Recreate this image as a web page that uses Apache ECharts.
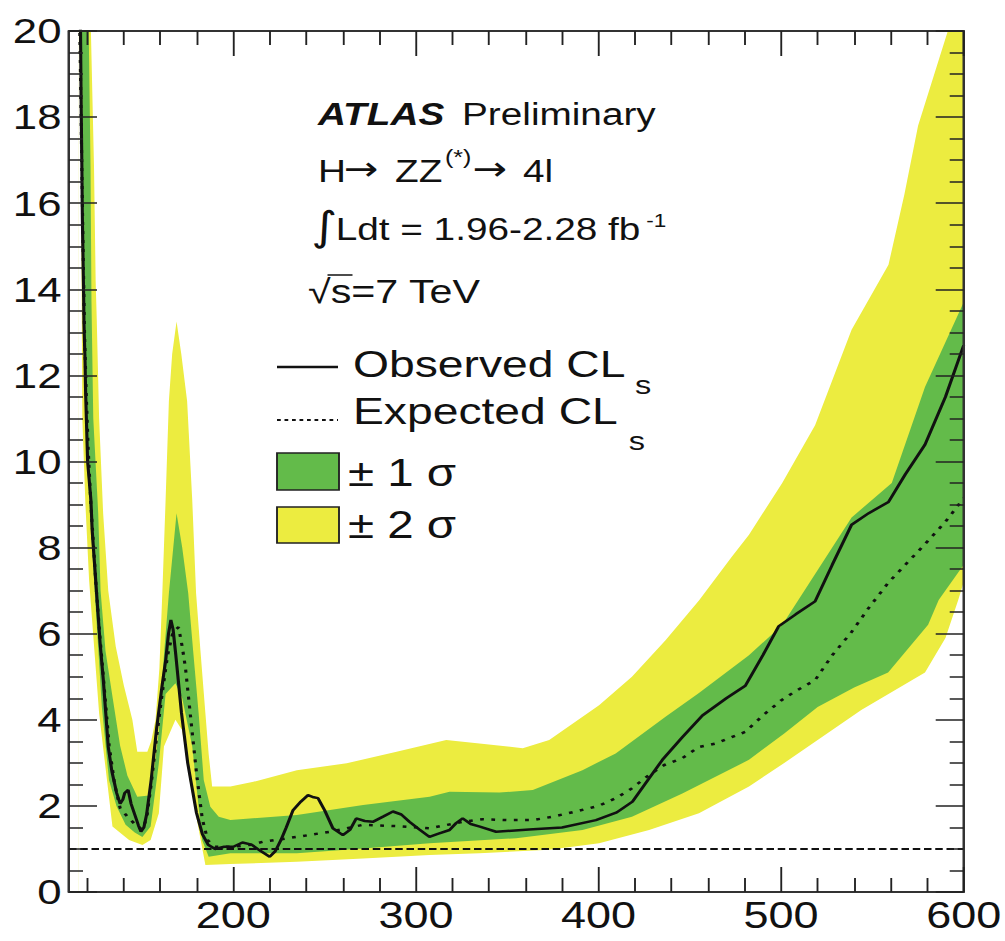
<!DOCTYPE html>
<html><head><meta charset="utf-8">
<script src="https://cdn.jsdelivr.net/npm/echarts@6/dist/echarts.min.js"></script>
<style>
html,body{margin:0;padding:0;background:#fff;overflow:hidden}
#chart{width:804px;height:941px;transform:scaleX(1.25);transform-origin:0 0}
</style></head><body><div id="chart"></div>
<script>
// ---- data (mass in GeV, 95% CL limit on sigma/sigma_SM) ----
const observedCLs = [[115.8,21],[116.3,20],[116.6,18.5],[117,17],[117.3,15.7],[118,13.9],[118.2,13.2],[118.8,12.3],[119.1,11.6],[120.2,10.0],[121,9.6],[122,9.1],[122.7,8.4],[125.1,6.95],[127,5.8],[128.8,4.92],[131.5,3.37],[133.5,2.8],[136.1,2.3],[138,2.05],[139.5,2.15],[140.5,2.3],[142.4,2.37],[144,2.05],[146,1.8],[148,1.55],[149.4,1.4],[151,1.5],[152.5,1.8],[155,2.6],[158,3.8],[161,4.8],[163,5.4],[164.5,6.0],[165.8,6.32],[167,6.1],[168.5,5.5],[171.6,4.16],[175,3.0],[179.8,1.84],[183,1.35],[186.2,1.1],[190,1.0],[195,1.05],[200,1.05],[205,1.15],[210,1.1],[215,0.95],[219.9,0.82],[223,0.95],[226,1.2],[229,1.5],[232.7,1.9],[237,2.1],[240.9,2.25],[244,2.2],[246.4,2.18],[250,1.9],[254.5,1.48],[260,1.32],[264,1.45],[267.3,1.71],[272,1.65],[276.4,1.63],[282,1.75],[287.4,1.87],[292,1.8],[296.5,1.63],[302,1.45],[307.4,1.28],[312,1.35],[318.4,1.44],[322,1.6],[325.6,1.71],[330,1.58],[335,1.52],[343.9,1.40],[362,1.45],[380,1.5],[398.6,1.67],[410,1.85],[418.6,2.10],[427,2.6],[435,3.07],[446,3.6],[456.9,4.1],[470,4.5],[480.4,4.79],[490,5.5],[498.6,6.17],[508,6.45],[518.6,6.75],[528,7.6],[538.6,8.53],[548,8.8],[558.8,9.06],[568,9.7],[578.8,10.39],[590,11.5],[600,12.7]];
const expectedCLs = [[115.5,21],[116.3,19],[116.8,17.5],[117.5,15.5],[118.5,13],[119.5,11.5],[120.5,10.3],[122,9.0],[125,7.0],[127,5.9],[129,4.9],[132,3.4],[135,2.5],[138,1.95],[142,1.75],[146,1.58],[150,1.45],[152.5,1.7],[155,2.5],[158,3.6],[161,4.6],[164,5.5],[167,6.05],[170,6.15],[172,5.7],[173.8,5.2],[177,3.9],[180,2.7],[183,1.7],[186,1.2],[190,1.05],[200,1.05],[210,1.1],[216.5,1.17],[225,1.22],[234.8,1.28],[253,1.40],[271,1.56],[289,1.53],[307.5,1.48],[325.7,1.63],[336.6,1.69],[350,1.67],[363.9,1.67],[375,1.75],[387.6,1.87],[400,2.0],[409.5,2.18],[418,2.4],[427.7,2.72],[436,2.95],[445.9,3.11],[455,3.37],[464.2,3.45],[480.4,3.72],[490,4.1],[500,4.45],[507.7,4.66],[518.6,4.92],[528,5.5],[538.6,6.04],[548,6.6],[558.8,7.19],[568,7.6],[578.8,8.08],[590,8.6],[600,9.15]];
const plus2Sigma = [[115,22],[121.5,21],[122,20],[123.7,16.85],[124.6,14.2],[125.2,13.3],[126.5,11.0],[128.7,8.8],[131.5,7.0],[135.6,5.7],[140,4.8],[144.7,4.0],[147.4,3.26],[152.9,3.26],[155,3.5],[157.4,4.0],[159.5,5.2],[161.1,6.94],[162.9,9.1],[164.7,11.4],[166.5,12.5],[168.9,13.25],[171.5,12.5],[174.7,11.4],[177.5,9.1],[179.6,6.94],[182,5.6],[184.7,4.15],[186.5,3.2],[188.4,2.45],[198.4,2.45],[211,2.56],[234.8,2.83],[262.1,2.99],[289.4,3.26],[316.6,3.53],[334.8,3.45],[358.5,3.34],[373,3.53],[400.3,4.34],[418.3,5.0],[436.7,5.85],[455,6.77],[473,7.79],[482.4,8.3],[500.6,9.5],[518.6,10.84],[538.6,13.06],[558.8,14.57],[567.5,16.2],[575,17.8],[591.3,20.0],[600,21.2]];
const plus1Sigma = [[115,22],[120.3,20.5],[120.8,20],[121.8,16.85],[122.3,13.75],[123.3,11.0],[126,8.8],[127.3,7.0],[130,5.6],[133.8,4.54],[138,3.4],[142,2.7],[147.4,2.21],[153.8,2.24],[156.5,2.8],[159.2,3.76],[162,5.5],[164.7,6.94],[168.9,8.8],[172,8.0],[175.3,6.94],[178,5.6],[181,4.15],[183.8,2.6],[187.4,1.98],[192,1.75],[198.4,1.67],[234.8,1.79],[271.1,2.02],[307.5,2.21],[318.4,2.33],[345.7,2.31],[364,2.37],[391.2,2.83],[409.4,3.22],[436.7,4.07],[455,4.62],[482.4,5.5],[500.6,6.2],[538.6,8.7],[560.6,9.5],[578.8,11.73],[598.8,13.59],[600,13.7]];
const minus1Sigma = [[115,22],[116.5,22],[117,20],[117.5,16],[117.8,13.75],[119,11],[120.5,9.5],[123.7,7.25],[128,4.3],[131.9,2.60],[136,2.0],[141,1.56],[146,1.38],[150.2,1.28],[154.7,1.52],[159.2,2.99],[162.9,4.6],[168.3,4.85],[172,4.5],[177.5,3.38],[182.9,1.21],[186.5,0.82],[198.4,0.9],[234.8,0.90],[271.1,1.01],[307.5,1.13],[354.9,1.25],[391.2,1.44],[418.3,1.75],[445.9,2.29],[482.4,3.07],[501.9,3.69],[520,4.3],[540,4.75],[558.6,5.1],[580.5,6.21],[586.3,6.78],[600,7.6]];
const minus2Sigma = [[115,22],[116,22],[116.5,20],[116.8,15],[117.3,11],[119,9],[121,7.25],[126.5,4.15],[133.8,1.52],[142.9,1.21],[150.2,1.09],[154.7,1.21],[159.2,1.83],[162,3.38],[168.3,4.0],[172,3.76],[176,2.6],[181.1,1.44],[184.7,0.63],[198.4,0.65],[234.8,0.70],[271.1,0.78],[307.5,0.86],[334.8,0.90],[373,0.98],[400.3,1.13],[427.7,1.44],[455,1.83],[482.4,2.45],[501.9,3.0],[543.9,4.23],[578.8,5.10],[590,5.9],[597,6.78],[600,7.2]];
const limitLine = 1;
const xMajorTicks = [200,300,400,500,600];
const xMinorTicks = [120,140,160,180,220,240,260,280,320,340,360,380,420,440,460,480,520,540,560,580];

// ---- styles ----
const F = 'Liberation Sans';
const GREEN = '#63bb4a', YELLOW = '#ecec40';
const tickStyle = {color:'#222', width:1.5};
const frameStyle = {color:'#333', width:2};

function band(data, color){
  return {type:'line', data, symbol:'none', showSymbol:false, silent:true,
    lineStyle:{width:0, opacity:0}, areaStyle:{color, opacity:1}, z:2};
}
const xBase = {type:'value', min:110, max:600, splitLine:{show:false}, z:10};
const yBase = {type:'value', min:0, max:20, interval:2, splitLine:{show:false}, z:10};

function txt(x, y, text, font, extra){
  return Object.assign({type:'text', x, y, z:100, style:{text, font, fill:'#111',
    align:'left', verticalAlign:'middle', textAlign:'left', textVerticalAlign:'middle'}}, extra||{});
}

const chart = echarts.init(document.getElementById('chart'), null, {renderer:'svg'});
chart.setOption({
  animation:false,
  backgroundColor:'#fff',
  grid:{left:55.2, right:32, top:31, bottom:49, containLabel:false},
  xAxis:[
    Object.assign({}, xBase, {position:'bottom',
      axisLine:{show:true, onZero:false, lineStyle:frameStyle},
      axisTick:{show:true, inside:true, length:25, customValues:xMajorTicks, lineStyle:tickStyle},
      axisLabel:{show:true, customValues:xMajorTicks, fontFamily:F, fontSize:36, color:'#111', margin:6}}),
    Object.assign({}, xBase, {position:'bottom',
      axisLine:{show:false, onZero:false},
      axisTick:{show:true, inside:true, length:14, customValues:xMinorTicks, lineStyle:tickStyle},
      axisLabel:{show:false}}),
    Object.assign({}, xBase, {position:'top',
      axisLine:{show:true, onZero:false, lineStyle:frameStyle},
      axisTick:{show:true, inside:true, length:25, customValues:xMajorTicks, lineStyle:tickStyle},
      axisLabel:{show:false}}),
    Object.assign({}, xBase, {position:'top',
      axisLine:{show:false, onZero:false},
      axisTick:{show:true, inside:true, length:14, customValues:xMinorTicks, lineStyle:tickStyle},
      axisLabel:{show:false}})
  ],
  yAxis:[
    Object.assign({}, yBase, {position:'left',
      axisLine:{show:true, onZero:false, lineStyle:frameStyle},
      axisTick:{show:true, inside:true, length:22.4, lineStyle:tickStyle},
      minorTick:{show:true, splitNumber:4, length:11.2, lineStyle:tickStyle},
      axisLabel:{show:true, fontFamily:F, fontSize:35, color:'#111', margin:6}}),
    Object.assign({}, yBase, {position:'right',
      axisLine:{show:true, onZero:false, lineStyle:frameStyle},
      axisTick:{show:true, inside:true, length:22.4, lineStyle:tickStyle},
      minorTick:{show:true, splitNumber:4, length:11.2, lineStyle:tickStyle},
      axisLabel:{show:false}})
  ],
  series:[
    band(plus2Sigma, YELLOW),
    band(plus1Sigma, GREEN),
    band(minus1Sigma, YELLOW),
    band(minus2Sigma, '#ffffff'),
    {type:'line', data:expectedCLs, symbol:'none', showSymbol:false, z:5, silent:true,
      lineStyle:{color:'#111', width:2.5, type:[3,6]},
      markLine:{silent:true, symbol:['none','none'], label:{show:false},
        lineStyle:{color:'#111', width:2, type:[6,3]}, data:[{yAxis:limitLine}]}},
    {type:'line', data:observedCLs, symbol:'none', showSymbol:false, z:6, silent:true,
      lineStyle:{color:'#111', width:2.5}}
  ],
  graphic:{elements:[
    txt(254.4, 114, 'ATLAS', 'italic bold 31px "Liberation Sans"'),
    txt(369.6, 114, 'Preliminary', '31px "Liberation Sans"'),
    txt(254.4, 171, 'H', '31px "Liberation Sans"'),
    txt(275, 169, '\u2192', '33px "DejaVu Sans"'),
    txt(316, 171, 'ZZ', '31px "Liberation Sans"'),
    txt(356, 157, '(*)', '20px "Liberation Sans"'),
    txt(378, 169, '\u2192', '33px "DejaVu Sans"'),
    txt(418.4, 171, '4l', '31px "Liberation Sans"'),
    txt(249, 226, '\u222B', '40px "DejaVu Sans"'),
    txt(268.5, 229, 'Ldt = 1.96-2.28 fb', '31px "Liberation Sans"'),
    txt(517, 221, '-1', '18px "Liberation Sans"'),
    txt(246.4, 292, '\u221As=7 TeV', '33px "Liberation Sans"'),
    {type:'line', z:100, shape:{x1:262, y1:275, x2:282, y2:275}, style:{stroke:'#111', lineWidth:1.5}},
    {type:'line', z:100, shape:{x1:221.6, y1:367, x2:270.4, y2:367}, style:{stroke:'#111', lineWidth:2.5}},
    txt(282.4, 364, 'Observed CL', '37px "Liberation Sans"'),
    txt(508, 385, 's', '26px "Liberation Sans"'),
    {type:'line', z:100, shape:{x1:221.6, y1:420, x2:270.4, y2:420}, style:{stroke:'#111', lineWidth:2, lineDash:[3,3]}},
    txt(282.4, 411, 'Expected CL', '37px "Liberation Sans"'),
    txt(503, 441, 's', '26px "Liberation Sans"'),
    {type:'rect', z:100, shape:{x:221.6, y:453, width:49.6, height:37}, style:{fill:GREEN, stroke:'#222', lineWidth:1.5}},
    txt(278.4, 473, '\u00B1 1 \u03C3', '38px "Liberation Sans"'),
    {type:'rect', z:100, shape:{x:221.6, y:507, width:49.6, height:36}, style:{fill:YELLOW, stroke:'#222', lineWidth:1.5}},
    txt(278.4, 525, '\u00B1 2 \u03C3', '38px "Liberation Sans"')
  ]}
});
</script></body></html>
